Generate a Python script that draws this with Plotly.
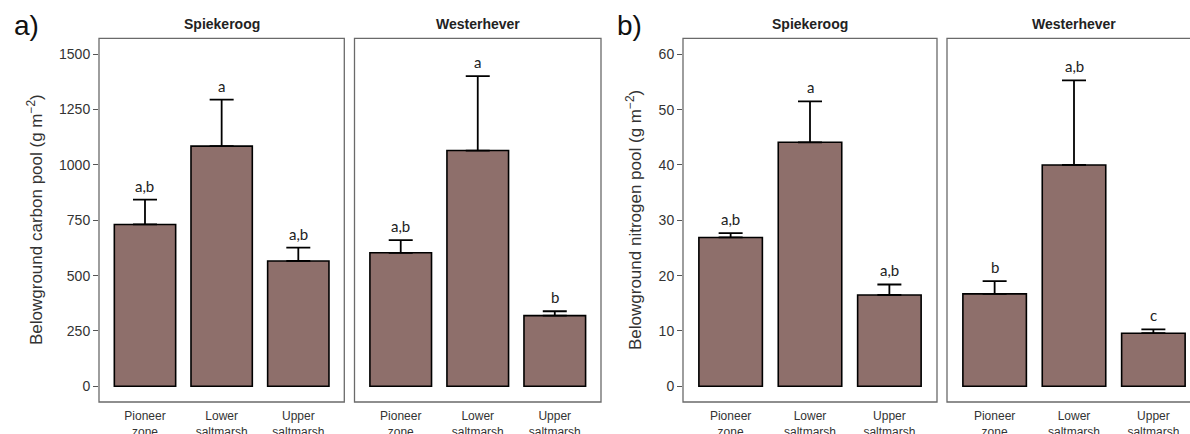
import plotly.graph_objects as go

categories = ["Pioneer<br>zone", "Lower<br>saltmarsh", "Upper<br>saltmarsh"]
sites = ["Spiekeroog", "Westerhever"]

# Panel a) belowground carbon pool (g m-2)
carbon_spiekeroog = [731, 1085, 566]
carbon_spiekeroog_se = [112, 210, 60]
carbon_spiekeroog_letters = ["a,b", "a", "a,b"]
carbon_westerhever = [603, 1065, 319]
carbon_westerhever_se = [57, 336, 20]
carbon_westerhever_letters = ["a,b", "a", "b"]

# Panel b) belowground nitrogen pool (g m-2)
nitrogen_spiekeroog = [26.9, 44.1, 16.5]
nitrogen_spiekeroog_se = [0.8, 7.4, 1.9]
nitrogen_spiekeroog_letters = ["a,b", "a", "a,b"]
nitrogen_westerhever = [16.7, 40.0, 9.6]
nitrogen_westerhever_se = [2.3, 15.3, 0.7]
nitrogen_westerhever_letters = ["b", "a,b", "c"]

carbon_ticks = [0, 250, 500, 750, 1000, 1250, 1500]
nitrogen_ticks = [0, 10, 20, 30, 40, 50, 60]

W, H = 1190, 434
BAR = "#8E6F6B"
BORDER = "#6a6a6a"
TXT = "#333333"

def px(x):
    return x / W

def py(y):
    return 1 - y / H

panels = [
    ((99, 344.3), carbon_spiekeroog, carbon_spiekeroog_se, carbon_spiekeroog_letters, 1),
    ((354.5, 601), carbon_westerhever, carbon_westerhever_se, carbon_westerhever_letters, 2),
    ((683, 937), nitrogen_spiekeroog, nitrogen_spiekeroog_se, nitrogen_spiekeroog_letters, 3),
    ((947, 1201), nitrogen_westerhever, nitrogen_westerhever_se, nitrogen_westerhever_letters, 4),
]

yranges = {1: [-71, 1572], 2: [-71, 1572], 3: [-2.84, 62.9], 4: [-2.84, 62.9]}
ydom = [py(402), py(38.3)]

fig = go.Figure()
layout = dict(
    width=W, height=H, margin=dict(l=0, r=0, t=0, b=0, autoexpand=False),
    paper_bgcolor="white", plot_bgcolor="white", showlegend=False,
    font=dict(family="Liberation Sans, Arial, sans-serif", color=TXT),
)
shapes = []
annotations = []

for i, (dom, vals, se, letters, k) in enumerate(panels, start=1):
    xs = [0, 1, 2]
    sfx = "" if i == 1 else str(i)
    fig.add_trace(go.Bar(
        x=xs, y=vals, width=0.8,
        marker=dict(color=BAR, line=dict(color="black", width=1.6)),
        error_y=dict(type="data", symmetric=False, array=se,
                     arrayminus=[0] * len(se), color="black",
                     thickness=1.8, width=12),
        xaxis="x" + sfx, yaxis="y" + sfx, hoverinfo="skip",
    ))
    x0, x1 = dom
    full = x1 - x0
    d1 = min(x1, W)
    vis = d1 - x0
    xr = [-0.6, -0.6 + 3.2 * vis / full]
    layout["xaxis" + sfx] = dict(
        domain=[px(x0), px(d1)], range=xr, anchor="y" + sfx,
        tickvals=xs, ticktext=categories, ticks="", showgrid=False,
        zeroline=False, showline=False, ticklabelstandoff=5, automargin=False,
        tickfont=dict(size=12, color=TXT, family="Liberation Sans, Arial, sans-serif"),
    )
    ya = dict(domain=ydom, range=yranges[k], anchor="x" + sfx, automargin=False,
              showgrid=False, zeroline=False, showline=False)
    if i in (1, 3):
        ya.update(tickvals=carbon_ticks if i == 1 else nitrogen_ticks,
                  ticks="outside", ticklen=5, tickcolor="#555555", tickwidth=1,
                  tickfont=dict(size=14, color=TXT), showticklabels=True)
    else:
        ya.update(showticklabels=False, ticks="")
    layout["yaxis" + sfx] = ya
    shapes.append(dict(type="rect", xref="paper", yref="paper",
                       x0=px(x0), x1=px(x1), y0=ydom[0], y1=ydom[1],
                       line=dict(color=BORDER, width=1.3), layer="above"))
    annotations.append(dict(
        text="<b>%s</b>" % sites[(i - 1) % 2], xref="paper", yref="paper",
        x=px((x0 + x1) / 2), y=py(24), showarrow=False,
        xanchor="center", yanchor="middle",
        font=dict(size=14, color="#222222")))
    for j in range(3):
        annotations.append(dict(
            text=letters[j], x=xs[j], y=vals[j] + se[j],
            xref="x" + sfx, yref="y" + sfx, showarrow=False,
            xanchor="center", yanchor="bottom", yshift=3,
            font=dict(size=15, color="#222222", family="Lato, Open Sans, sans-serif")))

annotations.append(dict(text="Belowground carbon pool (g m<sup>−2</sup>)",
                        xref="paper", yref="paper", x=px(35), y=py(220),
                        textangle=-90, showarrow=False, xanchor="center", yanchor="middle",
                        font=dict(size=17, color=TXT)))
annotations.append(dict(text="Belowground nitrogen pool (g m<sup>−2</sup>)",
                        xref="paper", yref="paper", x=px(634), y=py(220),
                        textangle=-90, showarrow=False, xanchor="center", yanchor="middle",
                        font=dict(size=17, color=TXT)))
annotations.append(dict(text="a)", xref="paper", yref="paper", x=px(12), y=py(25),
                        showarrow=False, xanchor="left", yanchor="middle",
                        font=dict(size=28, color="#111111")))
annotations.append(dict(text="b)", xref="paper", yref="paper", x=px(615), y=py(25),
                        showarrow=False, xanchor="left", yanchor="middle",
                        font=dict(size=28, color="#111111")))

layout["shapes"] = shapes
layout["annotations"] = annotations
fig.update_layout(**layout)
fig.write_html("out.html", config={"displayModeBar": False},
               post_script="document.body.style.margin='0';document.body.style.overflow='hidden';")
